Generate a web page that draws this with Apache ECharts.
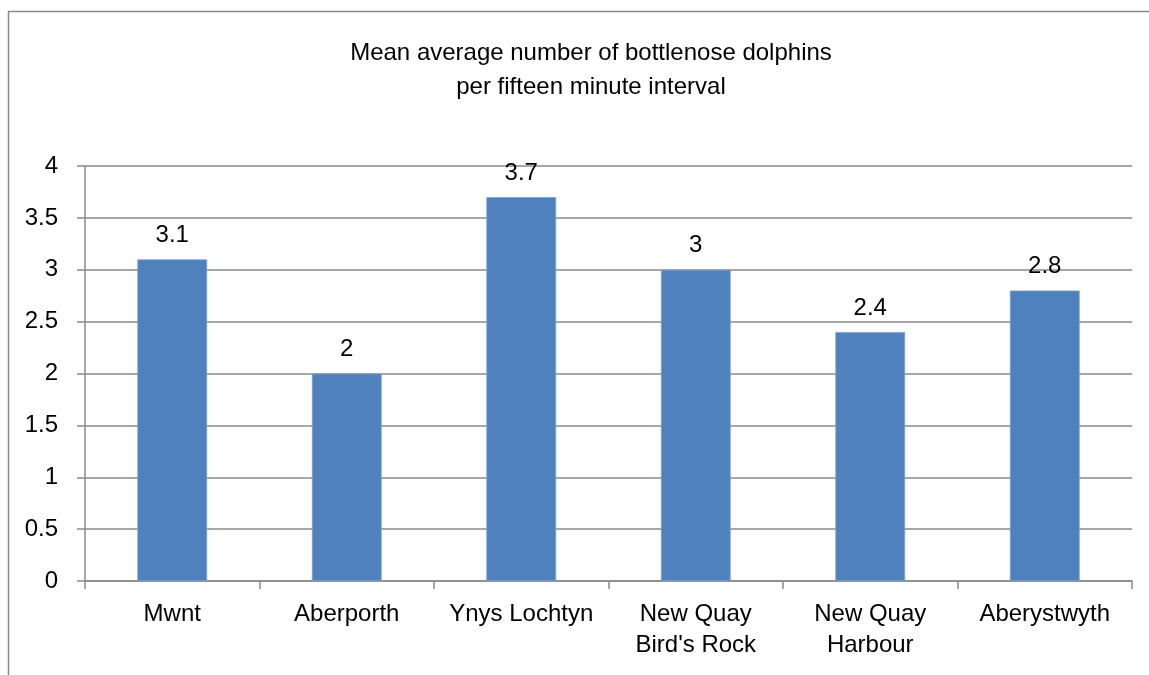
<!DOCTYPE html>
<html>
<head>
<meta charset="utf-8">
<script src="https://cdn.jsdelivr.net/npm/echarts@6/dist/echarts.min.js"></script>
<style>
html,body{margin:0;padding:0;background:#fff;}
#chart{width:1149px;height:675px;}
</style>
</head>
<body>
<div id="chart"></div>
<script>
const categories = ["Mwnt", "Aberporth", "Ynys Lochtyn", "New Quay\nBird's Rock", "New Quay\nHarbour", "Aberystwyth"];
const values = [3.1, 2, 3.7, 3, 2.4, 2.8];
const titleText = "Mean average number of bottlenose dolphins\nper fifteen minute interval";

const FONT = "'Liberation Sans', Arial, sans-serif";
const GRAY = '#8a8a8a';
const chart = echarts.init(document.getElementById('chart'), null, {renderer: 'canvas'});
chart.setOption({
  backgroundColor: '#fff',
  animation: false,
  graphic: [{
    type: 'rect',
    shape: {x: 8.5, y: 11.5, width: 1160, height: 700},
    style: {fill: 'none', stroke: GRAY, lineWidth: 1.5},
    silent: true
  }],
  title: {
    text: titleText,
    left: 586,
    textAlign: 'center',
    top: 31,
    textStyle: {fontFamily: FONT, fontSize: 24, fontWeight: 'normal', color: '#000', lineHeight: 34}
  },
  grid: {left: 85, right: 17, top: 166, bottom: 94, containLabel: false},
  xAxis: {
    type: 'category',
    data: categories,
    axisLine: {show: true, lineStyle: {color: GRAY, width: 1.5}},
    axisTick: {show: true, alignWithLabel: false, length: 8, lineStyle: {color: GRAY, width: 1.5}},
    axisLabel: {fontFamily: FONT, fontSize: 24, color: '#000', margin: 18, lineHeight: 31, interval: 0}
  },
  yAxis: {
    type: 'value',
    min: 0, max: 4, interval: 0.5,
    axisLine: {show: true, lineStyle: {color: GRAY, width: 1.5}},
    axisTick: {show: true, length: 8, lineStyle: {color: GRAY, width: 1.5}},
    axisLabel: {fontFamily: FONT, fontSize: 24, color: '#000', margin: 27},
    splitLine: {show: true, lineStyle: {color: GRAY, width: 1.5}}
  },
  series: [{
    type: 'bar',
    data: values,
    barCategoryGap: '60%',
    itemStyle: {color: '#4F81BD', borderColor: '#7ba2d3', borderWidth: 0.8},
    label: {show: true, position: 'top', distance: 12, fontFamily: FONT, fontSize: 24, color: '#000'}
  }]
});
</script>
</body>
</html>
